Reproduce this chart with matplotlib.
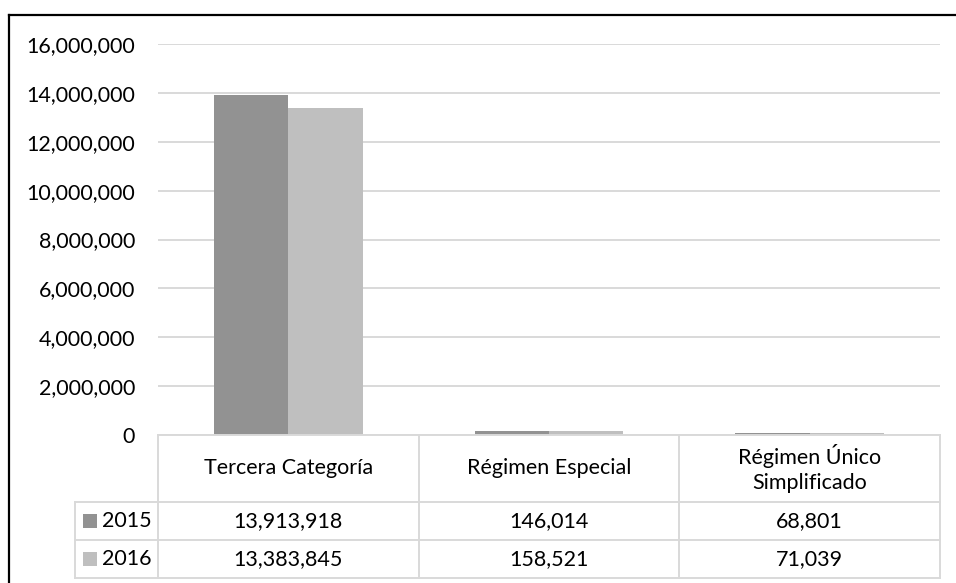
import matplotlib.pyplot as plt
from matplotlib.lines import Line2D
from matplotlib.patches import Rectangle
import matplotlib.transforms as mtransforms
import numpy as np

categories = ["Tercera Categoría", "Régimen Especial", "Régimen Único\nSimplificado"]
years = ["2015", "2016"]
values_2015 = [13913918, 146014, 68801]
values_2016 = [13383845, 158521, 71039]
yticks = [0, 2000000, 4000000, 6000000, 8000000, 10000000, 12000000, 14000000, 16000000]

colors = ["#929292", "#bfbfbf"]
grid_col = "#d9d9d9"
plt.rcParams["font.family"] = ["Lato", "DejaVu Sans"]
FS = 15.5

W, H = 956, 583
fig = plt.figure(figsize=(W / 100, H / 100), dpi=100)


def fx(px):
    return px / W


def fy(py):
    return 1 - py / H


# plot area in pixels
left, right, top, bottom = 158, 940, 44, 435
ax = fig.add_axes([fx(left), fy(bottom), fx(right) - fx(left), fy(top) - fy(bottom)])

x = np.arange(len(categories))
w = 0.2846
series = [values_2015, values_2016]
for i, vals in enumerate(series):
    ax.bar(x + (i - 0.5) * w, vals, width=w, color=colors[i], zorder=3)

ax.set_xlim(-0.5, len(categories) - 0.5)
ax.set_ylim(0, 16000000)
ax.set_yticks(yticks)
ax.set_yticklabels([f"{v:,}" for v in yticks], fontsize=FS)
ax.tick_params(axis="y", length=0, pad=16.5)
ax.set_xticks([])
ax.grid(axis="y", color=grid_col, linewidth=1.4, zorder=0)
for s in ax.spines.values():
    s.set_visible(False)

# data table under the axis
tr = mtransforms.blended_transform_factory(ax.transData, fig.transFigure)
header_top, header_bot, row1_bot, row2_bot = 435, 502, 540, 578
leg_left = 75
lw = 1.4

# horizontal lines
for py, x0 in [(header_top, left), (header_bot, leg_left), (row1_bot, leg_left), (row2_bot, leg_left)]:
    fig.add_artist(Line2D([fx(x0), fx(right)], [fy(py), fy(py)], color=grid_col, lw=lw))
# vertical lines
fig.add_artist(Line2D([fx(leg_left)] * 2, [fy(header_bot), fy(row2_bot)], color=grid_col, lw=lw))
for b in np.arange(len(categories) + 1) - 0.5:
    ax.add_artist(Line2D([b, b], [fy(header_top), fy(row2_bot)], color=grid_col, lw=lw,
                         transform=tr, clip_on=False))

for j, cat in enumerate(categories):
    ax.text(j, fy((header_top + header_bot) / 2), cat, transform=tr, ha="center", va="center",
            fontsize=FS, linespacing=1.35)

row_centers = [(header_bot + row1_bot) / 2, (row1_bot + row2_bot) / 2]
for i, vals in enumerate(series):
    yc = row_centers[i]
    for j, v in enumerate(vals):
        ax.text(j, fy(yc), f"{v:,}", transform=tr, ha="center", va="center", fontsize=FS)
    fig.add_artist(Rectangle((fx(83), fy(yc + 7)), fx(14), 14 / H, color=colors[i], lw=0))
    fig.text(fx(102), fy(yc), years[i], ha="left", va="center", fontsize=FS)

# outer frame (top and left visible)
fig.add_artist(Line2D([fx(9), 1], [fy(15), fy(15)], color="black", lw=1.6))
fig.add_artist(Line2D([fx(9), fx(9)], [fy(15), 0], color="black", lw=1.6))

fig.savefig("out.png", dpi=100)
